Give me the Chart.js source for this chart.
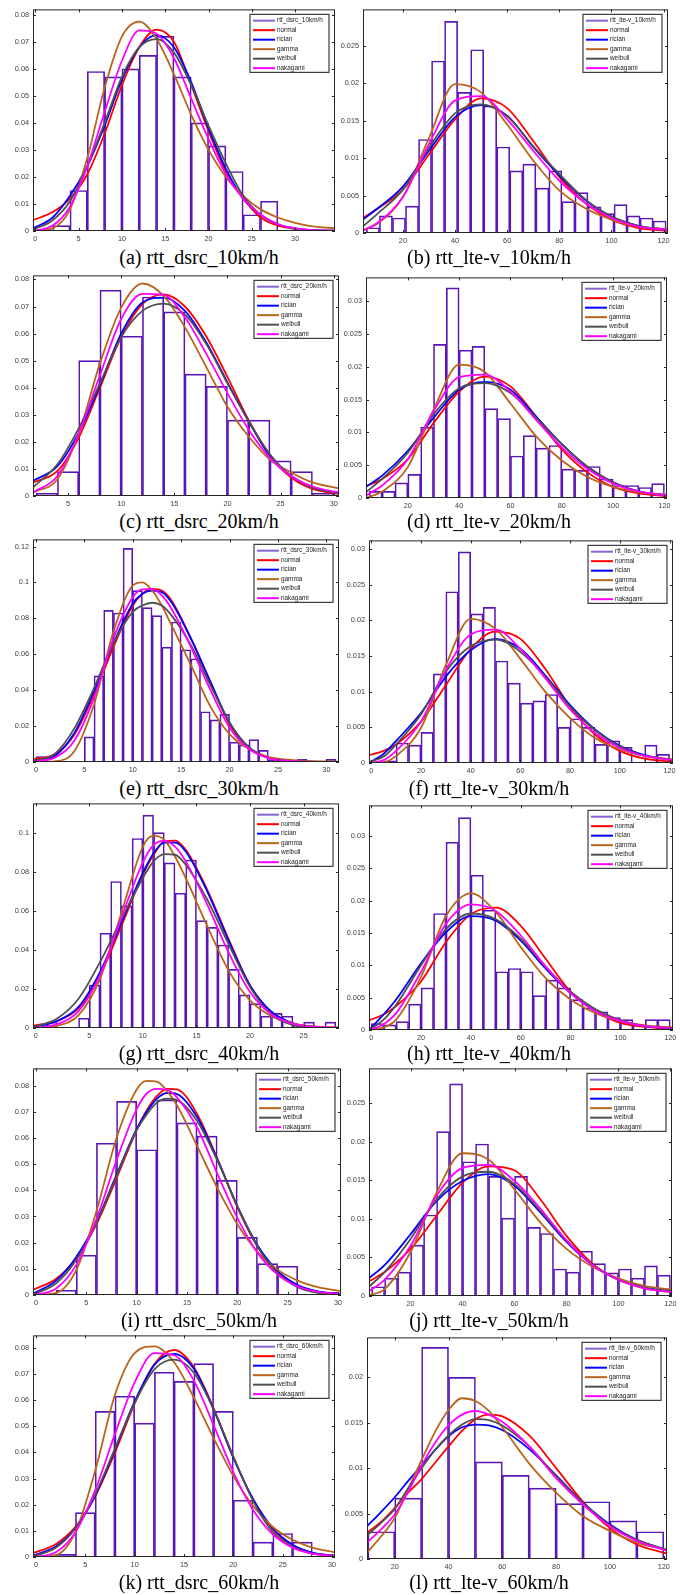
<!DOCTYPE html>
<html lang="en">
<head>
    <meta charset="UTF-8">
    <title>RTT distribution fits</title>
    <script src="https://cdn.jsdelivr.net/npm/chart.js"></script>
    <style>
        body { margin: 0; background: #fff; width: 683px; height: 1595px; position: relative; overflow: hidden; }
        canvas { position: absolute; }
        .cap { position: absolute; font-family: "Liberation Serif", "Times New Roman", serif; font-size: 20px;
               line-height: 20px; white-space: nowrap; transform: translateX(-50%); color: #000; }
    </style>
</head>
<body>
<script>
// fitted distributions, same order in every panel
const FIT_NAMES = ['normal', 'rician', 'gamma', 'weibull', 'nakagami'];

// shared tick lists
const XT_0_30 = [0, 5, 10, 15, 20, 25, 30];
const XT_5_30 = [5, 10, 15, 20, 25, 30];
const XT_0_25 = [0, 5, 10, 15, 20, 25];
const XT_20_120 = [20, 40, 60, 80, 100, 120];
const XT_0_120 = [0, 20, 40, 60, 80, 100, 120];
const YT_008 = [0, 0.01, 0.02, 0.03, 0.04, 0.05, 0.06, 0.07, 0.08];
const YT_0025 = [0, 0.005, 0.01, 0.015, 0.02, 0.025];
const YT_003 = [0, 0.005, 0.01, 0.015, 0.02, 0.025, 0.03];
const YT_012 = [0, 0.02, 0.04, 0.06, 0.08, 0.1, 0.12];
const YT_010 = [0, 0.02, 0.04, 0.06, 0.08, 0.1];
const YT_002 = [0, 0.005, 0.01, 0.015, 0.02];

// (a) dsrc 10 km/h
const A_LABEL = 'rtt_dsrc_10km/h';
const A_XLIM = [-0.27, 34.6];
const A_YMAX = 0.082;
const A_BINS = [3, 5, 7, 9, 11, 13, 15, 17, 19, 21, 23, 25, 27];
const A_FREQ = [0.002, 0.015, 0.059, 0.057, 0.060, 0.065, 0.072, 0.057, 0.040, 0.0315, 0.022, 0.006, 0.011];
const A_GRID = [-0.27, 2, 4, 6, 8, 10, 12, 14, 16, 18, 20, 22, 24, 26, 28, 30, 32, 34.6];
const A_NORMAL = [0.004, 0.007, 0.012, 0.021, 0.036, 0.054, 0.068, 0.0745, 0.070, 0.054, 0.037, 0.022, 0.012, 0.005, 0.002, 0.0008, 0.0003, 0.0001];
const A_RICIAN = [0.001, 0.005, 0.013, 0.024, 0.039, 0.056, 0.068, 0.0725, 0.068, 0.055, 0.038, 0.023, 0.012, 0.006, 0.0025, 0.001, 0.0003, 0.0001];
const A_GAMMA = [0, 0.001, 0.008, 0.027, 0.053, 0.072, 0.0775, 0.071, 0.058, 0.043, 0.030, 0.020, 0.013, 0.008, 0.005, 0.003, 0.0017, 0.001];
const A_WEIBULL = [0.0005, 0.004, 0.011, 0.024, 0.040, 0.057, 0.068, 0.071, 0.066, 0.054, 0.039, 0.025, 0.013, 0.006, 0.0025, 0.0008, 0.0002, 0];
const A_NAKAGAMI = [0, 0.002, 0.009, 0.024, 0.044, 0.063, 0.0742, 0.073, 0.064, 0.049, 0.034, 0.021, 0.012, 0.006, 0.0025, 0.001, 0.0003, 0.0001];

// (b) lte-v 10 km/h
const B_LABEL = 'rtt_lte-v_10km/h';
const B_XLIM = [4.7, 121.7];
const B_YMAX = 0.0299;
const B_BINS = [8.5, 13.5, 18.5, 23.5, 28.5, 33.5, 38.5, 43.5, 48.5, 53.5, 58.5, 63.5, 68.5, 73.5, 78.5, 83.5, 88.5, 93.5, 98.5, 103.5, 108.5, 113.5, 118.5];
const B_FREQ = [0.0007, 0.0023, 0.002, 0.0036, 0.0125, 0.023, 0.0283, 0.0188, 0.0245, 0.017, 0.0115, 0.0083, 0.0092, 0.006, 0.0083, 0.0042, 0.0054, 0.0035, 0.0026, 0.0038, 0.0023, 0.002, 0.0016];
const B_GRID = [4.7, 10, 20, 30, 40, 50, 60, 70, 80, 90, 100, 110, 121.7];
const B_NORMAL = [0.002, 0.0032, 0.0058, 0.0105, 0.0152, 0.018, 0.0167, 0.0123, 0.0075, 0.004, 0.0018, 0.0007, 0.0003];
const B_RICIAN = [0.0018, 0.0032, 0.0062, 0.011, 0.0155, 0.0171, 0.0157, 0.0115, 0.0077, 0.0044, 0.0022, 0.001, 0.0004];
const B_GAMMA = [0.0004, 0.0012, 0.0048, 0.0127, 0.0199, 0.0188, 0.0145, 0.0097, 0.0057, 0.0033, 0.0018, 0.0009, 0.0005];
const B_WEIBULL = [0.0009, 0.0025, 0.0058, 0.0114, 0.016, 0.0172, 0.0156, 0.0116, 0.0079, 0.0045, 0.0022, 0.001, 0.0004];
const B_NAKAGAMI = [0.0003, 0.0013, 0.0048, 0.0119, 0.0177, 0.0183, 0.0152, 0.011, 0.007, 0.004, 0.002, 0.0009, 0.0004];

// (c) dsrc 20 km/h
const C_LABEL = 'rtt_dsrc_20km/h';
const C_XLIM = [1.7, 30.5];
const C_YMAX = 0.0815;
const C_BINS = [3, 5, 7, 9, 11, 13, 15, 17, 19, 21, 23, 25, 27, 29];
const C_FREQ = [0.001, 0.009, 0.050, 0.076, 0.059, 0.0735, 0.068, 0.045, 0.0405, 0.028, 0.028, 0.013, 0.009, 0.001];
const C_GRID = [1.7, 4, 6, 8, 10, 12, 14, 16, 18, 20, 22, 24, 26, 28, 30.5];
const C_NORMAL = [0.005, 0.0093, 0.0215, 0.040, 0.0587, 0.0709, 0.0745, 0.070, 0.059, 0.044, 0.028, 0.0148, 0.0068, 0.0026, 0.0008];
const C_RICIAN = [0.0056, 0.011, 0.0233, 0.041, 0.060, 0.0715, 0.0733, 0.0684, 0.0568, 0.042, 0.0276, 0.0148, 0.0074, 0.0032, 0.0011];
const C_GAMMA = [0.0013, 0.0062, 0.023, 0.049, 0.0696, 0.0785, 0.0739, 0.0623, 0.0477, 0.033, 0.022, 0.0135, 0.0087, 0.005, 0.0028];
const C_WEIBULL = [0.0032, 0.0117, 0.025, 0.0416, 0.0587, 0.0684, 0.0711, 0.067, 0.0562, 0.0416, 0.0276, 0.0154, 0.0074, 0.0032, 0.001];
const C_NAKAGAMI = [0.0013, 0.0074, 0.023, 0.0446, 0.0654, 0.0747, 0.0743, 0.066, 0.0526, 0.038, 0.0245, 0.0141, 0.0074, 0.0035, 0.0013];

// (d) lte-v 20 km/h
const D_LABEL = 'rtt_lte-v_20km/h';
const D_XLIM = [3.7, 121];
const D_YMAX = 0.0336;
const D_BINS = [7.5, 12.5, 17.5, 22.5, 27.5, 32.5, 37.5, 42.5, 47.5, 52.5, 57.5, 62.5, 67.5, 72.5, 77.5, 82.5, 87.5, 92.5, 97.5, 102.5, 107.5, 112.5, 117.5];
const D_FREQ = [0.001, 0.001, 0.0023, 0.0036, 0.0108, 0.0234, 0.032, 0.0225, 0.0231, 0.0136, 0.0121, 0.0064, 0.0095, 0.0076, 0.008, 0.0044, 0.0042, 0.0048, 0.0029, 0.0019, 0.0019, 0.0016, 0.0022];
const D_GRID = [3.7, 10, 20, 30, 40, 50, 60, 70, 80, 90, 100, 110, 121];
const D_NORMAL = [0.0018, 0.0029, 0.0059, 0.0114, 0.0162, 0.0185, 0.017, 0.0124, 0.0074, 0.0039, 0.0017, 0.0007, 0.0003];
const D_RICIAN = [0.0017, 0.0034, 0.0072, 0.0122, 0.0165, 0.0177, 0.0165, 0.0124, 0.0082, 0.0047, 0.0024, 0.001, 0.0004];
const D_GAMMA = [0, 0.001, 0.0047, 0.0134, 0.0203, 0.0192, 0.0144, 0.0094, 0.0057, 0.0032, 0.0017, 0.0009, 0.0005];
const D_WEIBULL = [0.0009, 0.0029, 0.0069, 0.0127, 0.0167, 0.0175, 0.016, 0.0122, 0.0082, 0.0048, 0.0024, 0.001, 0.0004];
const D_NAKAGAMI = [0.0004, 0.0019, 0.0059, 0.0132, 0.0184, 0.0188, 0.0162, 0.0119, 0.0077, 0.0044, 0.0022, 0.001, 0.0004];

// (e) dsrc 30 km/h
const E_LABEL = 'rtt_dsrc_30km/h';
const E_XLIM = [-0.3, 31.3];
const E_YMAX = 0.124;
const E_BINS = [0.5, 1.5, 2.5, 3.5, 4.5, 5.5, 6.5, 7.5, 8.5, 9.5, 10.5, 11.5, 12.5, 13.5, 14.5, 15.5, 16.5, 17.5, 18.5, 19.5, 20.5, 21.5, 22.5, 23.5, 24.5, 25.5, 26.5, 27.5, 28.5, 29.5, 30.5];
const E_FREQ = [0.003, 0, 0, 0, 0, 0.014, 0.048, 0.0845, 0.083, 0.119, 0.0955, 0.086, 0.0815, 0.064, 0.078, 0.0625, 0.0575, 0.028, 0.0235, 0.0265, 0.011, 0.0095, 0.0125, 0.0065, 0.0012, 0, 0, 0.0015, 0, 0, 0.0015];
const E_GRID = [-0.3, 2, 4, 6, 8, 10, 11, 12, 13, 14, 16, 18, 20, 22, 24, 26, 28, 31.3];
const E_NORMAL = [0.0015, 0.0044, 0.0155, 0.0375, 0.064, 0.0872, 0.0937, 0.0964, 0.0955, 0.090, 0.069, 0.0449, 0.021, 0.0077, 0.0026, 0.0007, 0.0002, 0];
const E_RICIAN = [0.0004, 0.0035, 0.0164, 0.0394, 0.066, 0.0882, 0.0937, 0.0955, 0.0946, 0.089, 0.0688, 0.0449, 0.0219, 0.0081, 0.0026, 0.0007, 0.0002, 0];
const E_GAMMA = [0, 0.0004, 0.0063, 0.032, 0.0725, 0.0983, 0.1001, 0.0955, 0.0872, 0.0762, 0.0541, 0.0311, 0.0155, 0.0072, 0.0029, 0.0013, 0.0006, 0.0002];
const E_WEIBULL = [0.0004, 0.0048, 0.019, 0.0412, 0.066, 0.0836, 0.0872, 0.0887, 0.0872, 0.0817, 0.0652, 0.043, 0.0219, 0.0081, 0.0022, 0.0006, 0.0002, 0];
const E_NAKAGAMI = [0.0002, 0.0026, 0.0121, 0.0357, 0.0688, 0.0918, 0.0961, 0.0964, 0.0928, 0.0854, 0.0642, 0.0403, 0.0191, 0.0072, 0.0022, 0.0007, 0.0002, 0];

// (f) lte-v 30 km/h
const F_LABEL = 'rtt_lte-v_30km/h';
const F_XLIM = [-0.9, 121.4];
const F_YMAX = 0.0312;
const F_BINS = [2.5, 7.5, 12.5, 17.5, 22.5, 27.5, 32.5, 37.5, 42.5, 47.5, 52.5, 57.5, 62.5, 67.5, 72.5, 77.5, 82.5, 87.5, 92.5, 97.5, 102.5, 107.5, 112.5, 117.5];
const F_FREQ = [0, 0.0003, 0.0028, 0.0025, 0.0043, 0.0125, 0.024, 0.0296, 0.0209, 0.0218, 0.0143, 0.0112, 0.0084, 0.0087, 0.0096, 0.005, 0.0062, 0.005, 0.0026, 0.0031, 0.0022, 0, 0.0025, 0.0012];
const F_GRID = [-0.9, 5, 10, 20, 30, 40, 50, 60, 70, 80, 90, 100, 110, 121.4];
const F_NORMAL = [0.0011, 0.0017, 0.0026, 0.0058, 0.0109, 0.016, 0.0184, 0.0174, 0.0132, 0.0079, 0.004, 0.0017, 0.0006, 0.0002];
const F_RICIAN = [0, 0.0013, 0.0031, 0.007, 0.0121, 0.0158, 0.0174, 0.016, 0.0123, 0.0081, 0.0047, 0.0024, 0.0011, 0.0004];
const F_GAMMA = [0, 0.0001, 0.001, 0.0049, 0.0137, 0.0202, 0.0188, 0.0146, 0.01, 0.0063, 0.0035, 0.0019, 0.001, 0.0005];
const F_WEIBULL = [0.0001, 0.0009, 0.0026, 0.0068, 0.0128, 0.0164, 0.0173, 0.0156, 0.0121, 0.0079, 0.0046, 0.0023, 0.001, 0.0004];
const F_NAKAGAMI = [0, 0.0004, 0.0017, 0.0058, 0.013, 0.018, 0.0187, 0.016, 0.0119, 0.0075, 0.0042, 0.0021, 0.001, 0.0004];

// (g) dsrc 40 km/h
const G_LABEL = 'rtt_dsrc_40km/h';
const G_XLIM = [-0.25, 28.3];
const G_YMAX = 0.115;
const G_BINS = [0.5, 1.5, 2.5, 3.5, 4.5, 5.5, 6.5, 7.5, 8.5, 9.5, 10.5, 11.5, 12.5, 13.5, 14.5, 15.5, 16.5, 17.5, 18.5, 19.5, 20.5, 21.5, 22.5, 23.5, 24.5, 25.5, 26.5, 27.5];
const G_FREQ = [0, 0.003, 0, 0, 0.005, 0.022, 0.0485, 0.075, 0.0625, 0.097, 0.109, 0.100, 0.0845, 0.069, 0.086, 0.055, 0.0515, 0.0425, 0.030, 0.017, 0.0125, 0.006, 0.0075, 0.006, 0.0015, 0.003, 0, 0.003];
const G_GRID = [-0.25, 2, 4, 6, 8, 10, 11, 12, 13, 14, 16, 18, 20, 22, 24, 26, 28.3];
const G_NORMAL = [0.0012, 0.0036, 0.01, 0.0269, 0.0523, 0.0785, 0.0887, 0.0954, 0.0959, 0.0912, 0.0709, 0.0455, 0.0218, 0.008, 0.0024, 0.0005, 0];
const G_RICIAN = [0.0002, 0.0036, 0.0108, 0.0286, 0.054, 0.0794, 0.0895, 0.0949, 0.0949, 0.0904, 0.07, 0.0447, 0.0218, 0.0083, 0.0024, 0.0005, 0];
const G_GAMMA = [0, 0.0012, 0.0066, 0.0252, 0.059, 0.0929, 0.0985, 0.0963, 0.0878, 0.0768, 0.0523, 0.0294, 0.0142, 0.0061, 0.0024, 0.0008, 0.0003];
const G_WEIBULL = [0.0003, 0.0049, 0.015, 0.0337, 0.0557, 0.0768, 0.0853, 0.089, 0.0887, 0.0836, 0.0658, 0.043, 0.021, 0.0069, 0.0015, 0.0002, 0];
const G_NAKAGAMI = [0, 0.002, 0.0086, 0.0269, 0.0565, 0.0848, 0.0937, 0.0958, 0.0929, 0.0853, 0.0633, 0.0387, 0.0184, 0.0069, 0.0022, 0.0007, 0.0002];

// (h) lte-v 40 km/h
const H_LABEL = 'rtt_lte-v_40km/h';
const H_XLIM = [-0.9, 121.1];
const H_YMAX = 0.0347;
const H_BINS = [2.5, 7.5, 12.5, 17.5, 22.5, 27.5, 32.5, 37.5, 42.5, 47.5, 52.5, 57.5, 62.5, 67.5, 72.5, 77.5, 82.5, 87.5, 92.5, 97.5, 102.5, 107.5, 112.5, 117.5];
const H_FREQ = [0.001, 0.0008, 0.0013, 0.004, 0.0065, 0.018, 0.029, 0.0328, 0.0239, 0.0185, 0.009, 0.0095, 0.009, 0.0053, 0.0077, 0.0065, 0.0047, 0.0034, 0.0028, 0.0019, 0.0016, 0.0008, 0.0016, 0.0016];
const H_GRID = [-0.9, 5, 10, 20, 30, 40, 50, 60, 70, 80, 90, 100, 110, 121.1];
const H_NORMAL = [0.0015, 0.0024, 0.0037, 0.0075, 0.0136, 0.0179, 0.0189, 0.0161, 0.011, 0.0059, 0.0029, 0.0011, 0.0005, 0.0002];
const H_RICIAN = [0, 0.0024, 0.0047, 0.0103, 0.0151, 0.0176, 0.0169, 0.0138, 0.0095, 0.0057, 0.0029, 0.0014, 0.0006, 0.0003];
const H_GAMMA = [0, 0.0004, 0.0016, 0.0082, 0.0176, 0.0211, 0.0182, 0.0128, 0.008, 0.0047, 0.0026, 0.0014, 0.0007, 0.0004];
const H_WEIBULL = [0, 0.0016, 0.0039, 0.01, 0.0156, 0.018, 0.0171, 0.0141, 0.0098, 0.0059, 0.0032, 0.0015, 0.0006, 0.0003];
const H_NAKAGAMI = [0, 0.0009, 0.0026, 0.009, 0.0164, 0.0194, 0.0184, 0.0146, 0.0098, 0.0057, 0.0029, 0.0014, 0.0006, 0.0003];

// (i) dsrc 50 km/h
const I_LABEL = 'rtt_dsrc_50km/h';
const I_XLIM = [-0.3, 30.3];
const I_YMAX = 0.0866;
const I_BINS = [3, 5, 7, 9, 11, 13, 15, 17, 19, 21, 23, 25, 27, 29];
const I_FREQ = [0.0018, 0.0152, 0.058, 0.074, 0.0555, 0.0745, 0.0658, 0.0607, 0.0438, 0.022, 0.012, 0.011, 0, 0.001];
const I_GRID = [-0.3, 2, 4, 6, 8, 10, 11, 12, 13, 14, 16, 18, 20, 22, 24, 26, 28, 30.3];
const I_NORMAL = [0.002, 0.0062, 0.014, 0.027, 0.0446, 0.063, 0.0706, 0.076, 0.0788, 0.0786, 0.0692, 0.0522, 0.0336, 0.0185, 0.0087, 0.0035, 0.0012, 0.0003];
const I_RICIAN = [0.0005, 0.0055, 0.0145, 0.028, 0.046, 0.0635, 0.070, 0.075, 0.0772, 0.0768, 0.068, 0.052, 0.034, 0.019, 0.0092, 0.0038, 0.0014, 0.0004];
const I_GAMMA = [0, 0.0008, 0.0095, 0.032, 0.060, 0.0785, 0.0818, 0.0815, 0.078, 0.0725, 0.057, 0.041, 0.027, 0.0165, 0.0097, 0.0055, 0.003, 0.0015];
const I_WEIBULL = [0.0002, 0.0045, 0.0135, 0.0275, 0.0455, 0.063, 0.069, 0.0735, 0.075, 0.0745, 0.0665, 0.0515, 0.034, 0.0185, 0.0083, 0.003, 0.0008, 0.0002];
const I_NAKAGAMI = [0, 0.0025, 0.0115, 0.029, 0.0515, 0.071, 0.077, 0.0788, 0.0785, 0.0755, 0.064, 0.0465, 0.0295, 0.0162, 0.0078, 0.0033, 0.0012, 0.0004];

// (j) lte-v 50 km/h
const J_LABEL = 'rtt_lte-v_50km/h';
const J_XLIM = [4, 120.6];
const J_YMAX = 0.0295;
const J_BINS = [7.5, 12.5, 17.5, 22.5, 27.5, 32.5, 37.5, 42.5, 47.5, 52.5, 57.5, 62.5, 67.5, 72.5, 77.5, 82.5, 87.5, 92.5, 97.5, 102.5, 107.5, 112.5, 117.5];
const J_FREQ = [0.0012, 0.0023, 0.0031, 0.0066, 0.0105, 0.0213, 0.0275, 0.0174, 0.0197, 0.0155, 0.0101, 0.0155, 0.0089, 0.0081, 0.0035, 0.0031, 0.0058, 0.0042, 0.003, 0.0035, 0.0023, 0.0039, 0.0027];
const J_GRID = [4, 10, 20, 30, 40, 50, 60, 70, 80, 90, 100, 110, 120.6];
const J_NORMAL = [0.0019, 0.0031, 0.0061, 0.0104, 0.0147, 0.0168, 0.0163, 0.0125, 0.0078, 0.0042, 0.0021, 0.001, 0.0005];
const J_RICIAN = [0.0023, 0.004, 0.008, 0.0123, 0.0149, 0.0158, 0.0143, 0.0108, 0.007, 0.004, 0.0021, 0.0011, 0.0006];
const J_GAMMA = [0.0001, 0.0009, 0.0057, 0.0134, 0.0185, 0.0177, 0.0138, 0.0095, 0.0061, 0.0038, 0.0023, 0.0013, 0.0008];
const J_WEIBULL = [0.0012, 0.0031, 0.0074, 0.0125, 0.0155, 0.0161, 0.0145, 0.011, 0.0072, 0.0041, 0.0021, 0.0011, 0.0005];
const J_NAKAGAMI = [0.0006, 0.0021, 0.0065, 0.013, 0.0166, 0.017, 0.0149, 0.0113, 0.0072, 0.004, 0.0021, 0.001, 0.0005];

// (k) dsrc 60 km/h
const K_LABEL = 'rtt_dsrc_60km/h';
const K_XLIM = [-0.3, 30.3];
const K_YMAX = 0.0848;
const K_BINS = [3, 5, 7, 9, 11, 13, 15, 17, 19, 21, 23, 25, 27];
const K_FREQ = [0.001, 0.017, 0.0557, 0.0615, 0.0512, 0.0707, 0.0672, 0.074, 0.0557, 0.0217, 0.0057, 0.009, 0.0057];
const K_GRID = [-0.3, 2, 4, 6, 8, 10, 12, 14, 16, 18, 20, 22, 24, 26, 28, 30.3];
const K_NORMAL = [0.0015, 0.0049, 0.0115, 0.0232, 0.0399, 0.0587, 0.0738, 0.0792, 0.0726, 0.0569, 0.0381, 0.0218, 0.0106, 0.0045, 0.0016, 0.0004];
const K_RICIAN = [0.0005, 0.004, 0.011, 0.0235, 0.041, 0.0595, 0.0735, 0.0777, 0.072, 0.0565, 0.038, 0.0222, 0.011, 0.0047, 0.0017, 0.0005];
const K_GAMMA = [0, 0.0007, 0.0095, 0.033, 0.062, 0.078, 0.0806, 0.0745, 0.061, 0.0455, 0.031, 0.0195, 0.0115, 0.0066, 0.0036, 0.0018];
const K_WEIBULL = [0.0002, 0.0035, 0.011, 0.024, 0.0415, 0.059, 0.0718, 0.0755, 0.0705, 0.0565, 0.0385, 0.0215, 0.0095, 0.004, 0.0013, 0.0003];
const K_NAKAGAMI = [0, 0.0018, 0.0095, 0.0255, 0.047, 0.0668, 0.078, 0.0772, 0.0675, 0.0505, 0.0325, 0.018, 0.0087, 0.0036, 0.0013, 0.0004];

// (l) lte-v 60 km/h
const L_LABEL = 'rtt_lte-v_60km/h';
const L_XLIM = [9.7, 121.2];
const L_YMAX = 0.0244;
const L_BINS = [15, 25, 35, 45, 55, 65, 75, 85, 95, 105, 115];
const L_FREQ = [0.003, 0.0067, 0.0233, 0.020, 0.0107, 0.0092, 0.0078, 0.0061, 0.0063, 0.0042, 0.003];
const L_GRID = [9.7, 15, 20, 25, 30, 35, 40, 45, 50, 55, 60, 70, 80, 90, 100, 110, 121.2];
const L_NORMAL = [0.0029, 0.0041, 0.0056, 0.0073, 0.0088, 0.0106, 0.0124, 0.0141, 0.0154, 0.0159, 0.0157, 0.0136, 0.01, 0.0063, 0.0034, 0.0016, 0.0006];
const L_RICIAN = [0.0036, 0.0052, 0.0068, 0.0086, 0.0103, 0.012, 0.0135, 0.0145, 0.0148, 0.0147, 0.0142, 0.0121, 0.0092, 0.0062, 0.0038, 0.0021, 0.001];
const L_GAMMA = [0.0007, 0.0025, 0.0045, 0.0077, 0.0109, 0.014, 0.0164, 0.0177, 0.0174, 0.0163, 0.0145, 0.0105, 0.0073, 0.0047, 0.0031, 0.0018, 0.001];
const L_WEIBULL = [0.0026, 0.004, 0.0055, 0.0078, 0.01, 0.012, 0.0136, 0.0148, 0.0154, 0.0153, 0.0147, 0.0124, 0.0091, 0.0062, 0.0037, 0.0021, 0.001];
const L_NAKAGAMI = [0.0018, 0.0033, 0.0049, 0.0074, 0.0103, 0.0128, 0.0147, 0.0159, 0.0163, 0.0159, 0.0151, 0.0124, 0.0089, 0.006, 0.0036, 0.002, 0.0009];

const panels = [
    { tag: 'a', label: A_LABEL, xlim: A_XLIM, ymax: A_YMAX, xt: XT_0_30, yt: YT_008, bins: A_BINS, freq: A_FREQ, grid: A_GRID, fits: [A_NORMAL, A_RICIAN, A_GAMMA, A_WEIBULL, A_NAKAGAMI] },
    { tag: 'b', label: B_LABEL, xlim: B_XLIM, ymax: B_YMAX, xt: XT_20_120, yt: YT_0025, bins: B_BINS, freq: B_FREQ, grid: B_GRID, fits: [B_NORMAL, B_RICIAN, B_GAMMA, B_WEIBULL, B_NAKAGAMI] },
    { tag: 'c', label: C_LABEL, xlim: C_XLIM, ymax: C_YMAX, xt: XT_5_30, yt: YT_008, bins: C_BINS, freq: C_FREQ, grid: C_GRID, fits: [C_NORMAL, C_RICIAN, C_GAMMA, C_WEIBULL, C_NAKAGAMI] },
    { tag: 'd', label: D_LABEL, xlim: D_XLIM, ymax: D_YMAX, xt: XT_20_120, yt: YT_003, bins: D_BINS, freq: D_FREQ, grid: D_GRID, fits: [D_NORMAL, D_RICIAN, D_GAMMA, D_WEIBULL, D_NAKAGAMI] },
    { tag: 'e', label: E_LABEL, xlim: E_XLIM, ymax: E_YMAX, xt: XT_0_30, yt: YT_012, bins: E_BINS, freq: E_FREQ, grid: E_GRID, fits: [E_NORMAL, E_RICIAN, E_GAMMA, E_WEIBULL, E_NAKAGAMI] },
    { tag: 'f', label: F_LABEL, xlim: F_XLIM, ymax: F_YMAX, xt: XT_0_120, yt: YT_003, bins: F_BINS, freq: F_FREQ, grid: F_GRID, fits: [F_NORMAL, F_RICIAN, F_GAMMA, F_WEIBULL, F_NAKAGAMI] },
    { tag: 'g', label: G_LABEL, xlim: G_XLIM, ymax: G_YMAX, xt: XT_0_25, yt: YT_010, bins: G_BINS, freq: G_FREQ, grid: G_GRID, fits: [G_NORMAL, G_RICIAN, G_GAMMA, G_WEIBULL, G_NAKAGAMI] },
    { tag: 'h', label: H_LABEL, xlim: H_XLIM, ymax: H_YMAX, xt: XT_0_120, yt: YT_003, bins: H_BINS, freq: H_FREQ, grid: H_GRID, fits: [H_NORMAL, H_RICIAN, H_GAMMA, H_WEIBULL, H_NAKAGAMI] },
    { tag: 'i', label: I_LABEL, xlim: I_XLIM, ymax: I_YMAX, xt: XT_0_30, yt: YT_008, bins: I_BINS, freq: I_FREQ, grid: I_GRID, fits: [I_NORMAL, I_RICIAN, I_GAMMA, I_WEIBULL, I_NAKAGAMI] },
    { tag: 'j', label: J_LABEL, xlim: J_XLIM, ymax: J_YMAX, xt: XT_20_120, yt: YT_0025, bins: J_BINS, freq: J_FREQ, grid: J_GRID, fits: [J_NORMAL, J_RICIAN, J_GAMMA, J_WEIBULL, J_NAKAGAMI] },
    { tag: 'k', label: K_LABEL, xlim: K_XLIM, ymax: K_YMAX, xt: XT_0_30, yt: YT_008, bins: K_BINS, freq: K_FREQ, grid: K_GRID, fits: [K_NORMAL, K_RICIAN, K_GAMMA, K_WEIBULL, K_NAKAGAMI] },
    { tag: 'l', label: L_LABEL, xlim: L_XLIM, ymax: L_YMAX, xt: XT_20_120, yt: YT_002, bins: L_BINS, freq: L_FREQ, grid: L_GRID, fits: [L_NORMAL, L_RICIAN, L_GAMMA, L_WEIBULL, L_NAKAGAMI] }
];

// page layout: plot-area boxes [left, top, right, bottom] in page pixels
const plotBoxes = [
    [33, 7, 335, 231], [363, 7, 668, 233],
    [33, 273, 339, 496], [366, 275, 667, 498],
    [33, 537, 339, 762], [369, 538, 673, 763],
    [33, 801, 339, 1028], [369, 803, 673, 1030],
    [33, 1066, 341, 1295], [369, 1066, 672, 1296],
    [33, 1333, 335, 1557], [367, 1335, 667, 1559]
];
const captionTops = [247, 511, 778, 1043, 1310, 1572];
const captionCenters = [199, 489];

const fitColors = ['#ff0000', '#0000ff', '#b8651b', '#505050', '#ff00ff'];
const histEdge = '#5a16b4';
const histLegend = '#8a62d6';
const AXIS_W = 33, AXIS_H = 14, PAD_T = 6, PAD_R = 10;
const tickFont = { family: '"Liberation Sans", Arial, sans-serif', size: 7.3 };

function fmt(v) {
    return String(parseFloat(v.toFixed(4)));
}

// box around the axes with small inward ticks on all four sides
const framePlugin = {
    id: 'frame',
    afterDatasetsDraw(chart) {
        const { ctx, chartArea: a, scales } = chart;
        ctx.save();
        ctx.strokeStyle = '#262626';
        ctx.lineWidth = 1;
        ctx.strokeRect(a.left + 0.5, a.top + 0.5, a.width - 1, a.height - 1);
        ctx.beginPath();
        scales.x.ticks.forEach(t => {
            const px = Math.round(scales.x.getPixelForValue(t.value)) + 0.5;
            ctx.moveTo(px, a.bottom); ctx.lineTo(px, a.bottom - 3);
            ctx.moveTo(px, a.top); ctx.lineTo(px, a.top + 3);
        });
        scales.y.ticks.forEach(t => {
            const py = Math.round(scales.y.getPixelForValue(t.value)) + 0.5;
            ctx.moveTo(a.left, py); ctx.lineTo(a.left + 3, py);
            ctx.moveTo(a.right, py); ctx.lineTo(a.right - 3, py);
        });
        ctx.stroke();
        ctx.restore();
    }
};

// MATLAB-style legend box in the upper right corner of the axes
const legendPlugin = {
    id: 'cornerLegend',
    afterDraw(chart) {
        const { ctx, chartArea: a } = chart;
        const w = 79, h = 58;
        const x = a.right - 6 - w, y = a.top + 5;
        ctx.save();
        ctx.fillStyle = '#fff';
        ctx.fillRect(x, y, w, h);
        ctx.strokeStyle = '#3c3c3c';
        ctx.lineWidth = 1.2;
        ctx.strokeRect(x, y, w, h);
        ctx.font = '6.4px "Liberation Sans", Arial, sans-serif';
        ctx.textBaseline = 'middle';
        chart.data.datasets.forEach((ds, i) => {
            const ry = y + 6.3 + i * 9.5;
            ctx.strokeStyle = ds.legendColor || ds.borderColor;
            ctx.lineWidth = 2;
            ctx.beginPath();
            ctx.moveTo(x + 3, ry); ctx.lineTo(x + 25, ry);
            ctx.stroke();
            ctx.fillStyle = '#222';
            ctx.fillText(ds.label, x + 27, ry);
        });
        ctx.restore();
    }
};

panels.forEach((p, idx) => {
    const [x0, y0, x1, y1] = plotBoxes[idx];
    const canvas = document.createElement('canvas');
    canvas.width = (x1 - x0) + AXIS_W + PAD_R;
    canvas.height = (y1 - y0) + PAD_T + AXIS_H;
    canvas.style.left = (x0 - AXIS_W) + 'px';
    canvas.style.top = (y0 - PAD_T) + 'px';
    document.body.appendChild(canvas);

    const datasets = [{
        type: 'bar',
        label: p.label,
        data: p.bins.map((b, i) => ({ x: b, y: p.freq[i] })),
        backgroundColor: 'rgba(255,255,255,0)',
        borderColor: histEdge,
        legendColor: histLegend,
        borderWidth: 1,
        barPercentage: 1,
        categoryPercentage: 1,
        grouped: false,
        order: 10
    }];
    p.fits.forEach((vals, k) => {
        datasets.push({
            type: 'line',
            label: FIT_NAMES[k],
            data: p.grid.map((x, i) => ({ x: x, y: vals[i] })),
            borderColor: fitColors[k],
            borderWidth: 1.8,
            pointRadius: 0,
            fill: false,
            cubicInterpolationMode: 'monotone',
            order: 5 - k
        });
    });

    new Chart(canvas, {
        type: 'bar',
        data: { datasets: datasets },
        plugins: [framePlugin, legendPlugin],
        options: {
            responsive: false,
            animation: false,
            events: [],
            layout: { padding: { left: 0, top: PAD_T, right: PAD_R, bottom: 0 } },
            plugins: { legend: { display: false }, tooltip: { enabled: false } },
            scales: {
                x: {
                    type: 'linear',
                    min: p.xlim[0], max: p.xlim[1],
                    offset: false,
                    grid: { display: false, drawTicks: false, offset: false },
                    border: { display: false },
                    afterBuildTicks: s => { s.ticks = p.xt.map(v => ({ value: v })); },
                    afterFit: s => { s.height = AXIS_H; },
                    ticks: { font: tickFont, color: '#404040', padding: 4, maxRotation: 0, autoSkip: false, callback: v => fmt(v) }
                },
                y: {
                    min: 0, max: p.ymax,
                    grid: { display: false, drawTicks: false },
                    border: { display: false },
                    afterBuildTicks: s => { s.ticks = p.yt.map(v => ({ value: v })); },
                    afterFit: s => { s.width = AXIS_W; },
                    ticks: { font: tickFont, color: '#404040', padding: 4, autoSkip: false, callback: v => fmt(v) }
                }
            }
        }
    });

    const cap = document.createElement('div');
    cap.className = 'cap';
    cap.textContent = '(' + p.tag + ') ' + p.label;
    cap.style.left = captionCenters[idx % 2] + 'px';
    cap.style.top = captionTops[Math.floor(idx / 2)] + 'px';
    document.body.appendChild(cap);
});
</script>
</body>
</html>
